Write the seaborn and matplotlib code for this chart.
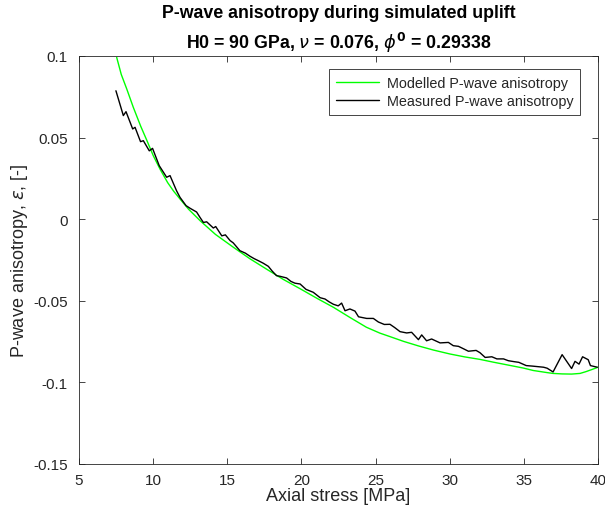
import matplotlib
matplotlib.use("Agg")
import matplotlib.pyplot as plt
import seaborn as sns
import pandas as pd

# Modelled P-wave anisotropy
model_stress = [7.54, 7.85, 8.22, 8.66, 9.16, 9.57, 10.01, 10.47, 10.98, 11.38, 11.81, 12.39,
                13.19, 14.20, 15.41, 16.52, 17.63, 18.74, 19.95, 21.05, 22.16, 23.27, 24.38,
                25.29, 25.99, 26.90, 27.91, 28.91, 30.02, 31.03, 32.04, 32.94, 33.95, 34.96,
                35.63, 36.57, 36.97, 37.58, 38.22, 38.79, 39.19, 39.59, 40.0]
model_eps = [0.0992, 0.0887, 0.0798, 0.0686, 0.0570, 0.0484, 0.0389, 0.0306, 0.0224, 0.0172,
             0.0124, 0.0061, -0.0011, -0.0093, -0.0172, -0.0242, -0.0305, -0.0367, -0.0428,
             -0.0485, -0.0540, -0.0602, -0.0662, -0.0698, -0.0720, -0.0749, -0.0777,
             -0.0802, -0.0826, -0.0844, -0.0859, -0.0876, -0.0894, -0.0912, -0.0927,
             -0.0940, -0.0945, -0.0948, -0.0949, -0.0945, -0.0934, -0.0921, -0.0907]

# Measured P-wave anisotropy
meas_stress = [7.49, 7.99, 8.17, 8.62, 8.78, 9.15, 9.34, 9.74, 9.96, 10.41, 10.91, 11.14,
               11.58, 11.81, 12.22, 12.49, 12.93, 13.16, 13.39, 13.61, 14.06, 14.22, 14.63,
               14.87, 15.19, 15.40, 15.85, 16.22, 16.53, 16.82, 17.09, 17.43, 17.77, 18.03,
               18.32, 18.56, 19.0, 19.29, 19.56, 19.91, 20.31, 20.80, 21.26, 21.59, 21.86,
               22.15, 22.48, 22.71, 22.94, 23.27, 23.61, 23.85, 24.40, 24.85, 25.19, 25.59,
               25.97, 26.29, 26.65, 27.10, 27.43, 27.89, 28.11, 28.44, 28.78, 29.35, 29.91,
               30.24, 30.59, 30.93, 31.26, 31.78, 32.04, 32.39, 32.84, 33.18, 33.63, 33.95,
               34.35, 34.66, 35.16, 35.56, 36.33, 36.57, 36.97, 37.58, 38.22, 38.45, 38.72,
               38.96, 39.34, 39.49, 39.95]
meas_eps = [0.0787, 0.0635, 0.0659, 0.0553, 0.0563, 0.0475, 0.0481, 0.0419, 0.0434, 0.0328,
            0.0257, 0.0267, 0.0174, 0.0134, 0.0083, 0.0067, 0.0044, 0.0011, -0.0020,
            -0.0016, -0.0054, -0.0045, -0.0102, -0.0096, -0.0131, -0.0145, -0.0193,
            -0.0208, -0.0227, -0.0242, -0.0254, -0.0270, -0.0289, -0.0318, -0.0346,
            -0.0350, -0.0360, -0.0381, -0.0392, -0.0397, -0.0430, -0.0448, -0.0481,
            -0.0489, -0.0506, -0.0521, -0.0531, -0.0514, -0.0561, -0.0550, -0.0563,
            -0.0598, -0.0608, -0.0608, -0.0630, -0.0645, -0.0644, -0.0664, -0.0689,
            -0.0697, -0.0693, -0.0738, -0.0709, -0.0745, -0.0734, -0.0758, -0.0755,
            -0.0775, -0.0779, -0.0794, -0.0809, -0.0804, -0.0818, -0.0847, -0.0843,
            -0.0856, -0.0856, -0.0867, -0.0873, -0.0877, -0.0897, -0.0900, -0.0907,
            -0.0913, -0.0936, -0.0830, -0.0915, -0.0871, -0.0888, -0.0843, -0.0861,
            -0.0897, -0.0907]

x_ticks = [5, 10, 15, 20, 25, 30, 35, 40]
y_ticks = [-0.15, -0.1, -0.05, 0, 0.05, 0.1]
y_ticklabels = ["-0.15", "-0.1", "-0.05", "0", "0.05", "0.1"]

sns.set_theme(style="white")
plt.rcParams["font.family"] = ["Liberation Sans", "DejaVu Sans"]
plt.rcParams["axes.unicode_minus"] = False
plt.rcParams["mathtext.fontset"] = "dejavusans"

df_model = pd.DataFrame({"stress": model_stress, "eps": model_eps})
df_meas = pd.DataFrame({"stress": meas_stress, "eps": meas_eps})

W, H = 605, 506
left, right, top, bottom = 79, 598, 57, 465
fig = plt.figure(figsize=(W / 100, H / 100), dpi=100)
ax = fig.add_axes([left / W, 1 - bottom / H, (right - left) / W, (bottom - top) / H])

sns.lineplot(data=df_model, x="stress", y="eps", ax=ax, color=(0, 1, 0), lw=1.0,
             sort=False, estimator=None, label="Modelled P-wave anisotropy")
sns.lineplot(data=df_meas, x="stress", y="eps", ax=ax, color="black", lw=1.0,
             sort=False, estimator=None, label="Measured P-wave anisotropy")

ax.set_xlim(5, 40)
ax.set_ylim(-0.15, 0.1)
ax.set_xticks(x_ticks)
ax.set_xticklabels([str(t) for t in x_ticks])
ax.set_yticks(y_ticks)
ax.set_yticklabels(y_ticklabels)

tc = "#262626"
for s in ax.spines.values():
    s.set_visible(True)
    s.set_color(tc)
    s.set_linewidth(0.6)
ax.tick_params(direction="in", length=4, width=0.6, colors=tc, labelsize=11,
               top=True, right=True, bottom=True, left=True)
ax.tick_params(axis="x", pad=6.5)
ax.tick_params(axis="y", pad=8)
for lab in ax.get_xticklabels() + ax.get_yticklabels():
    lab.set_color(tc)

ax.set_xlabel("Axial stress [MPa]", fontsize=13, color=tc, labelpad=0)
ax.set_ylabel(r"P-wave anisotropy, $\epsilon$, [-]", fontsize=13, color=tc, labelpad=2)
ax.set_title("P-wave anisotropy during simulated uplift\n"
             r"H0 = 90 GPa, $\nu$ = 0.076, $\phi^{\mathbf{0}}$ = 0.29338",
             fontsize=12.8, fontweight="bold", color="black", pad=6, linespacing=1.45)

leg = ax.legend(loc="upper right", bbox_to_anchor=(0.966, 0.967), fontsize=10.4,
                frameon=True, fancybox=False, framealpha=1, edgecolor=tc,
                borderpad=0.45, handlelength=3.0, handletextpad=0.55, labelspacing=0.3,
                borderaxespad=0)
leg.get_frame().set_linewidth(0.6)
for t in leg.get_texts():
    t.set_color(tc)

fig.savefig("out.png", dpi=100)
